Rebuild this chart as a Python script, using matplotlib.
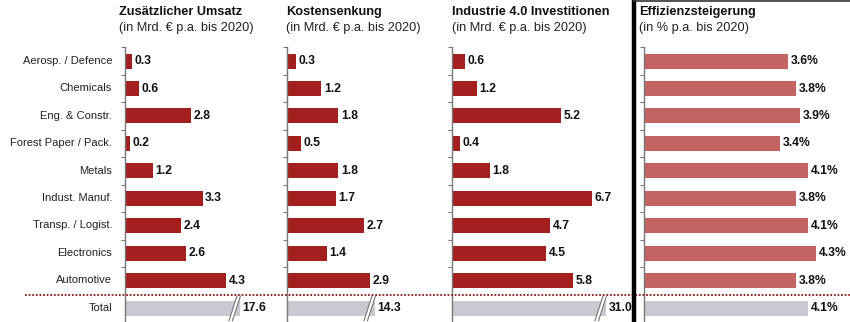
import matplotlib
matplotlib.use("Agg")
import matplotlib.pyplot as plt
from matplotlib.patches import Polygon
from matplotlib.lines import Line2D

plt.rcParams['font.family'] = ['Liberation Sans', 'DejaVu Sans']

categories = ["Aerosp. / Defence", "Chemicals", "Eng. & Constr.", "Forest Paper / Pack.",
              "Metals", "Indust. Manuf.", "Transp. / Logist.", "Electronics", "Automotive"]
total_label = "Total"

umsatz = [0.3, 0.6, 2.8, 0.2, 1.2, 3.3, 2.4, 2.6, 4.3]
umsatz_total = 17.6
kosten = [0.3, 1.2, 1.8, 0.5, 1.8, 1.7, 2.7, 1.4, 2.9]
kosten_total = 14.3
invest = [0.6, 1.2, 5.2, 0.4, 1.8, 6.7, 4.7, 4.5, 5.8]
invest_total = 31.0
effizienz = [3.6, 3.8, 3.9, 3.4, 4.1, 3.8, 4.1, 4.3, 3.8]
effizienz_total = 4.1

titles = ["Zusätzlicher Umsatz", "Kostensenkung", "Industrie 4.0 Investitionen", "Effizienzsteigerung"]
subtitles = ["(in Mrd. € p.a. bis 2020)", "(in Mrd. € p.a. bis 2020)",
             "(in Mrd. € p.a. bis 2020)", "(in % p.a. bis 2020)"]

W, H = 850, 322
fig = plt.figure(figsize=(W / 100, H / 100), dpi=100)

RED = "#A3201F"
PALE = "#C46462"
GRAY = "#C8C9D1"

panels = [
    dict(left=125, width=145, xmax=145 / 23.5, vals=umsatz, tot=umsatz_total, cap=(240 - 125) / 23.5,
         color=RED, fmt="{:.1f}", title_x=119),
    dict(left=287, width=143, xmax=143 / 28.6, vals=kosten, tot=kosten_total, cap=(375 - 287) / 28.6,
         color=RED, fmt="{:.1f}", title_x=286),
    dict(left=452, width=173, xmax=173 / 20.9, vals=invest, tot=invest_total, cap=(606 - 452) / 20.9,
         color=RED, fmt="{:.1f}", title_x=452),
    dict(left=644, width=206, xmax=206 / 40.0, vals=effizienz, tot=effizienz_total, cap=None,
         color=PALE, fmt="{:.1f}%", title_x=639),
]

top_px, bot_px = 47.3, 322
n = len(categories)
bar_h = 15 / 27.4

for k, p in enumerate(panels):
    ax = fig.add_axes([p['left'] / W, 1 - bot_px / H, p['width'] / W, (bot_px - top_px) / H])
    ax.set_xlim(0, p['xmax'])
    ax.set_ylim(n + 0.5, -0.5)
    px = p['xmax'] / p['width']  # data units per pixel
    off = 2.5 * px
    ys = list(range(n))
    ax.barh(ys, p['vals'], height=bar_h, color=p['color'], edgecolor='none')
    for y, v in zip(ys, p['vals']):
        ax.text(v + off, y, p['fmt'].format(v), va='center', ha='left',
                fontsize=8.7, fontweight='bold', color='#111111')
    tot_draw = p['tot'] if p['cap'] is None else min(p['tot'], p['cap'])
    ax.barh([n], [tot_draw], height=bar_h, color=GRAY, edgecolor='none')
    ax.text(tot_draw + off, n, p['fmt'].format(p['tot']), va='center', ha='left',
            fontsize=8.7, fontweight='bold', color='#111111')
    if p['cap'] is not None and p['tot'] > p['cap']:
        xb = tot_draw - 7 * px
        yb0, yb1 = n + 0.45, n - 0.45
        sl = 4 * px
        poly = Polygon([[xb - sl, yb0], [xb + 3.5 * px - sl, yb0], [xb + 3.5 * px + sl, yb1], [xb + sl, yb1]],
                       closed=True, facecolor='white', edgecolor='none', zorder=3)
        ax.add_patch(poly)
        for dx in (0, 3.5 * px):
            ax.add_line(Line2D([xb + dx - sl, xb + dx + sl], [yb0, yb1], color='#777777', lw=0.8, zorder=4))
    for s in ('top', 'right', 'bottom'):
        ax.spines[s].set_visible(False)
    ax.spines['left'].set_color('#777777')
    ax.spines['left'].set_linewidth(1.0)
    ax.set_xticks([])
    ax.set_yticks([i - 0.5 for i in range(n)])
    ax.tick_params(axis='y', direction='out', length=3, width=0.8, color='#777777', labelleft=False)
    ax.patch.set_alpha(0)

    fig.text(p['title_x'] / W, 1 - 12 / H, titles[k], fontsize=9.2, fontweight='bold',
             ha='left', va='center', color='#111111')
    fig.text(p['title_x'] / W, 1 - 28 / H, subtitles[k], fontsize=9.2,
             ha='left', va='center', color='#222222')

for i, c in enumerate(categories + [total_label]):
    y_px = 61 + 27.4 * i
    fig.text(112 / W, 1 - y_px / H, c, ha='right', va='center', fontsize=8, color='#222222')

fig.add_artist(Line2D([25 / W, 1.0], [1 - 295 / H, 1 - 295 / H], color='#8B1A1A', lw=1.3,
                      linestyle=(0, (1, 1)), zorder=5))

fig.add_artist(Line2D([634 / W, 634 / W], [0, 1], color='black', lw=3.2, zorder=6))
fig.add_artist(Line2D([634 / W, 1.0], [1 - 0.8 / H, 1 - 0.8 / H], color='#333333', lw=1.2, zorder=6))

fig.savefig("out.png", dpi=100)
